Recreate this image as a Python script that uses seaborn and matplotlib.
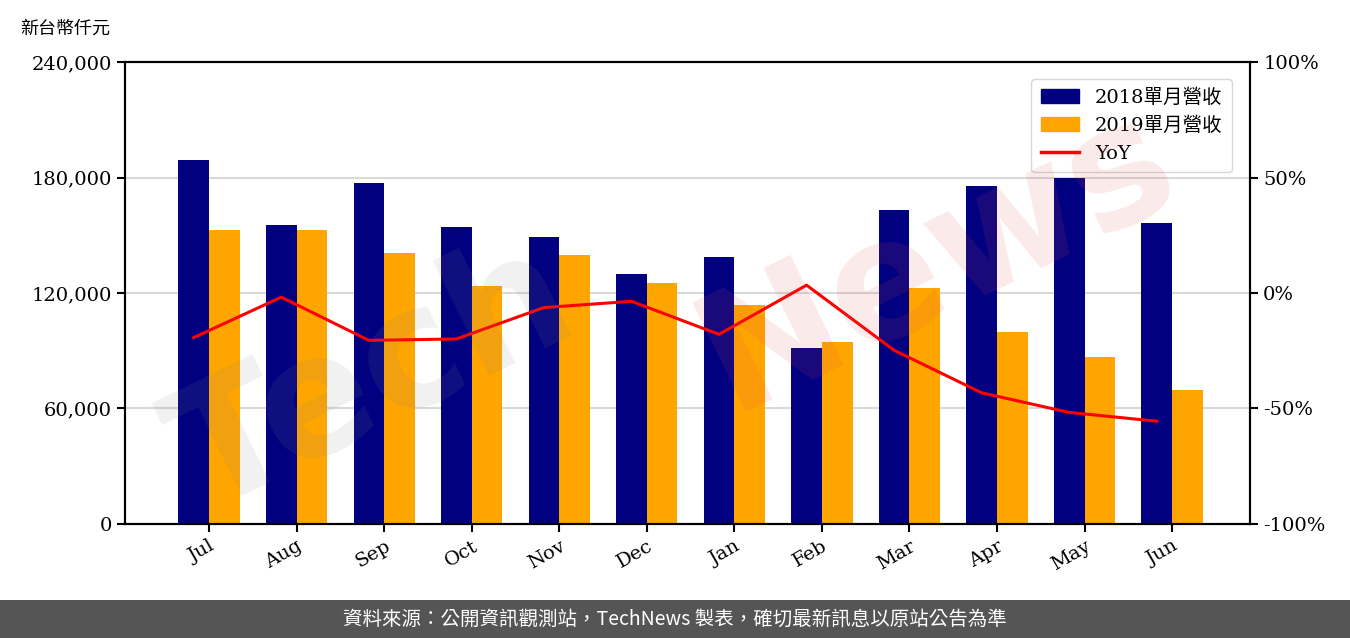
import numpy as np
import pandas as pd
import matplotlib.pyplot as plt
import seaborn as sns
from matplotlib.patches import Patch
from matplotlib.lines import Line2D

# ─────────────────────────────────────────────
# 單月營收 2018 vs 2019 + YoY
# ─────────────────────────────────────────────

months = ["Jul", "Aug", "Sep", "Oct", "Nov", "Dec",
          "Jan", "Feb", "Mar", "Apr", "May", "Jun"]
rev_2018 = [189100, 155300, 177100, 154300, 149100, 129900,
            138700, 91400, 163100, 175600, 179700, 156400]
rev_2019 = [152700, 152500, 140800, 123600, 139700, 125200,
            113800, 94500, 122600, 99700, 86800, 69600]
yoy = [-19.3, -1.8, -20.5, -19.9, -6.3, -3.6,
       -17.9, 3.4, -24.8, -43.2, -51.7, -55.5]

NAVY   = "#000080"
ORANGE = "#FFA500"
LINE   = "#FF0000"

plt.rcParams["font.family"] = ["DejaVu Serif", "Noto Sans CJK TC"]

df = pd.DataFrame({
    "month": months * 2,
    "value": rev_2018 + rev_2019,
    "series": ["2018單月營收"] * len(months) + ["2019單月營收"] * len(months),
})

fig = plt.figure(figsize=(13.5, 6.38), dpi=100)
ax = fig.add_axes([0.0926, 0.1787, 0.8333, 0.7241])

sns.barplot(data=df, x="month", y="value", hue="series", order=months,
            palette=[NAVY, ORANGE], width=0.7, saturation=1,
            ax=ax, legend=False, zorder=2)

ax.set_ylim(0, 240000)
ax.set_yticks(np.arange(0, 240001, 60000))
ax.set_yticklabels([f"{v:,}" for v in range(0, 240001, 60000)], fontsize=14)
ax.set_xlim(-0.96, 11.89)
ax.set_xlabel("")
ax.set_ylabel("")
ax.grid(axis="y", color="#d9d9d9", linewidth=1.5, zorder=0)
ax.set_axisbelow(True)
for lbl in ax.get_xticklabels():
    lbl.set_rotation(30)
    lbl.set_ha("right")
    lbl.set_rotation_mode("anchor")
    lbl.set_fontsize(14)
ax.tick_params(axis="both", width=1.5, length=6)

ax2 = ax.twinx()
line_df = pd.DataFrame({"x": np.arange(len(months)) - 0.175, "yoy": yoy})
sns.lineplot(data=line_df, x="x", y="yoy", color=LINE, linewidth=2.2, ax=ax2)
ax2.set_ylim(-100, 100)
ax2.set_yticks([-100, -50, 0, 50, 100])
ax2.set_yticklabels([f"{v}%" for v in [-100, -50, 0, 50, 100]], fontsize=14)
ax2.set_ylabel("")
ax2.set_xlabel("")
ax2.tick_params(axis="y", width=1.5, length=6)

for a in (ax, ax2):
    for s in a.spines.values():
        s.set_linewidth(1.5)
        s.set_color("black")

handles = [Patch(color=NAVY, label="2018單月營收"),
           Patch(color=ORANGE, label="2019單月營收"),
           Line2D([0], [0], color=LINE, linewidth=2.5, label="YoY")]
leg = ax2.legend(handles=handles, loc="upper right", fontsize=14,
                 frameon=True, fancybox=True, borderpad=0.5,
                 bbox_to_anchor=(0.993, 0.985))
leg.get_frame().set_edgecolor("#cccccc")
leg.set_zorder(20)

# watermark
fig.text(0.11, 0.20, "Tech", fontsize=120, rotation=26, color="#888888",
         alpha=0.12, fontweight="bold", family="DejaVu Sans", zorder=10)
fig.text(0.50, 0.36, "News", fontsize=120, rotation=26, color="#e05050",
         alpha=0.12, fontweight="bold", family="DejaVu Sans", zorder=10)

fig.text(0.015, 0.955, "新台幣仟元", fontsize=13, ha="left", va="center",
         family=["Noto Sans CJK TC"])

# footer band
fig.patches.append(plt.Rectangle((0, 0), 1, 38 / 638, transform=fig.transFigure,
                                 facecolor="#555555", edgecolor="none", zorder=0))
fig.text(0.5, 19 / 638, "資料來源：公開資訊觀測站，TechNews 製表，確切最新訊息以原站公告為準",
         color="white", fontsize=14, ha="center", va="center",
         family=["Noto Sans CJK TC"])

plt.savefig("out.png", dpi=100)
plt.close()
